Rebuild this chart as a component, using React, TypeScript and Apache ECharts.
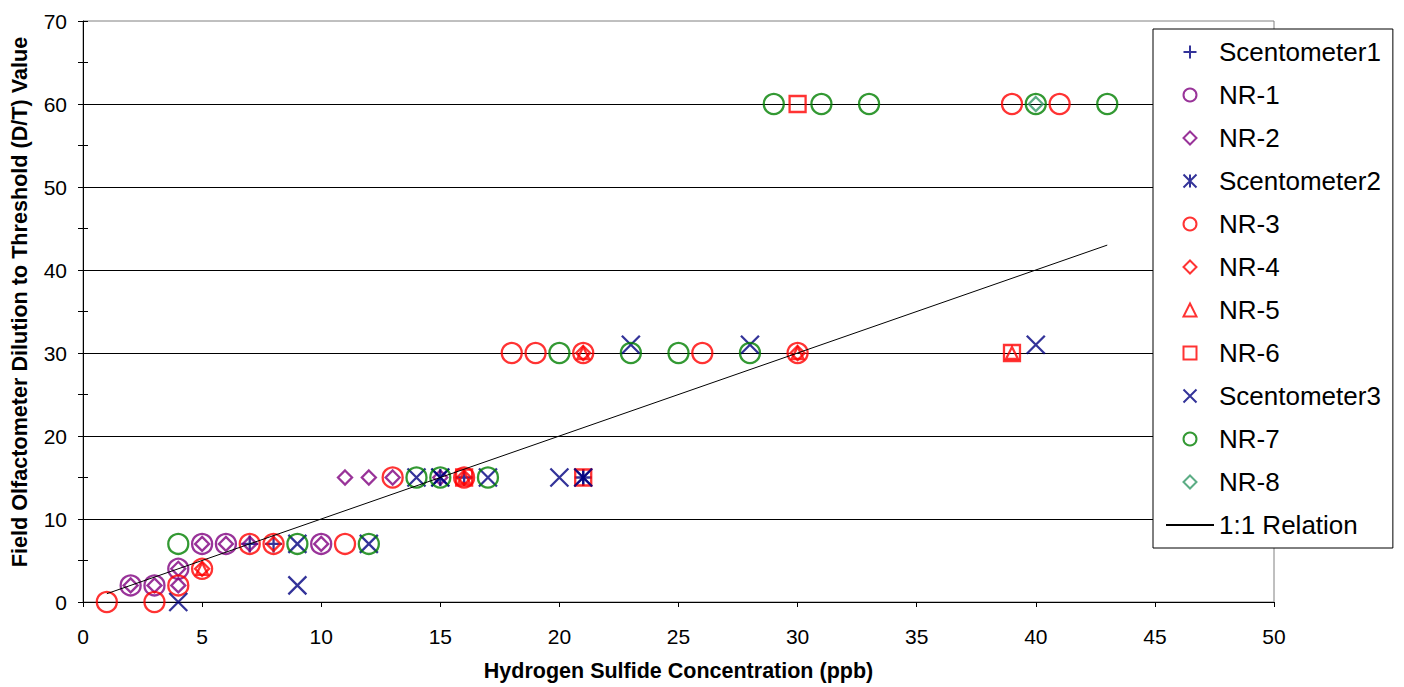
import React, { useEffect, useRef } from "react";
import * as echarts from "echarts";

// ---- data: [H2S ppb, D/T value] ----
const scentometer1 = [[7, 7], [8, 7], [16, 15], [21, 15]];
const nr1 = [[2, 2], [3, 2], [4, 4], [5, 7], [6, 7], [10, 7]];
const nr2 = [[2, 2], [3, 2], [4, 2], [4, 4], [5, 7], [6, 7], [7, 7], [10, 7], [11, 15], [12, 15], [13, 15], [15, 15]];
const scentometer2 = [[15, 15], [21, 15]];
const nr3 = [[1, 0], [3, 0], [4, 2], [5, 4], [7, 7], [8, 7], [11, 7], [13, 15], [16, 15], [18, 30], [19, 30], [21, 30], [26, 30], [30, 30], [39, 60], [41, 60]];
const nr4 = [[5, 4], [8, 7], [16, 15], [21, 30], [30, 30]];
const nr5 = [[5, 4], [16, 15], [21, 30], [30, 30], [39, 30]];
const nr6 = [[16, 15], [21, 15], [30, 60], [39, 30]];
const scentometer3 = [[4, 0], [9, 2], [9, 7], [12, 7], [14, 15], [15, 15], [17, 15], [20, 15], [21, 15], [23, 31], [28, 31], [40, 31]];
const nr7 = [[4, 7], [9, 7], [12, 7], [14, 15], [15, 15], [17, 15], [20, 30], [23, 30], [25, 30], [28, 30], [29, 60], [31, 60], [33, 60], [40, 60], [43, 60]];
const nr8 = [[40, 60]];
const relation = [[1, 1], [43, 43]];

const xTitle = "Hydrogen Sulfide Concentration (ppb)";
const yTitle = "Field Olfactometer Dilution to Threshold (D/T) Value";

const PLUS = "path://M0,5L10,5M5,0L5,10";
const CROSS = "path://M0,0L10,10M10,0L0,10";
const STAR = "path://M0,0L10,10M10,0L0,10M5,0L5,10";
const DIAMOND_ICON = "path://M5,0L10,5L5,10L0,5Z";
const TRIANGLE_ICON = "path://M5,0L10,10L0,10Z";
const SQUARE_ICON = "path://M0,0L10,0L10,10L0,10Z";

function sc(name: string, data: number[][], symbol: string, size: number, color: string) {
  return {
    name,
    type: "scatter",
    data,
    symbol,
    symbolSize: size,
    symbolKeepAspect: true,
    itemStyle: { color: "transparent", borderColor: color, borderWidth: 2.3 },
    emphasis: { disabled: true },
  };
}

export default function App() {
  const ref = useRef<HTMLDivElement>(null);
  useEffect(() => {
    document.body.style.margin = "0";
    const chart = echarts.init(ref.current!, null, { renderer: "svg" });
    const font = "Arial, 'Liberation Sans', sans-serif";
    chart.setOption({
      animation: false,
      backgroundColor: "#fff",
      textStyle: { fontFamily: font },
      grid: {
        left: 83,
        right: 130,
        top: 21,
        bottom: 85,
        show: true,
        borderColor: "#808080",
        borderWidth: 1,
        backgroundColor: "#fff",
      },
      graphic: [
        {
          type: "text",
          x: 19,
          y: 302,
          rotation: Math.PI / 2,
          style: {
            text: yTitle,
            fontSize: 21.6,
            fontWeight: "bold",
            fontFamily: font,
            fill: "#000",
            align: "center",
            verticalAlign: "middle",
          },
        },
      ],
      xAxis: {
        type: "value",
        min: 0,
        max: 50,
        interval: 5,
        name: xTitle,
        nameLocation: "middle",
        nameGap: 58,
        nameTextStyle: { fontSize: 21.5, fontWeight: "bold", color: "#000", fontFamily: font },
        axisLine: { show: true, lineStyle: { color: "#000", width: 1 } },
        axisTick: { show: true, length: 5, lineStyle: { color: "#000" } },
        axisLabel: { fontSize: 21, color: "#000", margin: 24, fontFamily: font },
        splitLine: { show: false },
      },
      yAxis: [
        {
          type: "value",
          min: 0,
          max: 70,
          interval: 10,
          position: "left",
          axisLine: { show: true, lineStyle: { color: "#000", width: 1 } },
          axisTick: { show: true, length: 5, lineStyle: { color: "#000" } },
          minorTick: { show: true, splitNumber: 2, length: 5, lineStyle: { color: "#000" } },
          axisLabel: { fontSize: 21, color: "#000", margin: 16, fontFamily: font },
          splitLine: { show: true, showMaxLine: false, lineStyle: { color: "#000", width: 1 } },
        },
        {
          type: "value",
          min: 0,
          max: 70,
          interval: 10,
          position: "left",
          axisLine: { show: false },
          axisTick: { show: true, inside: true, length: 5, lineStyle: { color: "#000" } },
          minorTick: { show: true, splitNumber: 2, length: 5, lineStyle: { color: "#000" } },
          axisLabel: { show: false },
          splitLine: { show: false },
        },
      ],
      legend: {
        orient: "vertical",
        left: 1153,
        top: 29,
        padding: [10, 12, 10, 12],
        itemGap: 17,
        itemWidth: 48,
        itemHeight: 13,
        symbolKeepAspect: true,
        backgroundColor: "#fff",
        borderColor: "#000",
        borderWidth: 1,
        borderRadius: 0,
        textStyle: { fontSize: 26, color: "#000", fontFamily: font },
        selectedMode: false,
        z: 10,
        data: [
          { name: "Scentometer1" },
          { name: "NR-1" },
          { name: "NR-2", icon: DIAMOND_ICON },
          { name: "Scentometer2" },
          { name: "NR-3" },
          { name: "NR-4", icon: DIAMOND_ICON },
          { name: "NR-5", icon: TRIANGLE_ICON },
          { name: "NR-6", icon: SQUARE_ICON },
          { name: "Scentometer3" },
          { name: "NR-7" },
          { name: "NR-8", icon: DIAMOND_ICON },
          { name: "1:1 Relation" },
        ],
      },
      series: [
        sc("Scentometer1", scentometer1, PLUS, 17, "#000080"),
        sc("NR-1", nr1, "circle", 20, "#800080"),
        sc("NR-2", nr2, "diamond", 14, "#800080"),
        sc("Scentometer2", scentometer2, STAR, 17, "#000080"),
        sc("NR-3", nr3, "circle", 20, "#FF0000"),
        sc("NR-4", nr4, "diamond", 14, "#FF0000"),
        sc("NR-5", nr5, "triangle", 12, "#FF0000"),
        sc("NR-6", nr6, "rect", 16, "#FF0000"),
        sc("Scentometer3", scentometer3, CROSS, 18, "#000080"),
        sc("NR-7", nr7, "circle", 20, "#008000"),
        sc("NR-8", nr8, "diamond", 14, "#339966"),
        {
          name: "1:1 Relation",
          type: "line",
          data: relation,
          symbol: "none",
          itemStyle: { color: "transparent" },
          lineStyle: { color: "#000", width: 1 },
          emphasis: { disabled: true },
        },
      ],
    });
    return () => chart.dispose();
  }, []);
  return <div ref={ref} style={{ width: 1404, height: 687 }} />;
}
